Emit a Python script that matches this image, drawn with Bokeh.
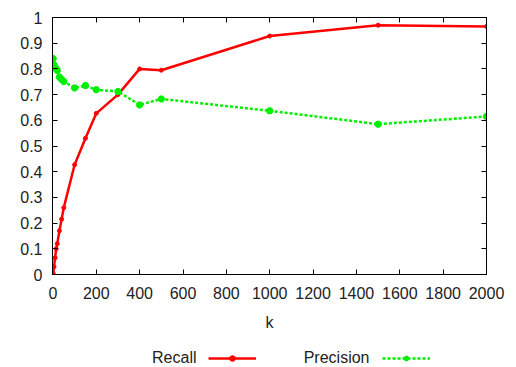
from bokeh.plotting import figure
from bokeh.layouts import column
from bokeh.models import Range1d, FixedTicker, LinearAxis, Label, Legend, LegendItem
from bokeh.embed import file_html
from bokeh.resources import INLINE

k = [1, 5, 10, 15, 20, 30, 40, 50, 100, 150, 200, 300, 400, 500, 1000, 1500, 2000]
recall = [0.005, 0.03, 0.065, 0.10, 0.12, 0.17, 0.215, 0.26, 0.427, 0.53, 0.627,
          0.70, 0.80, 0.795, 0.928, 0.97, 0.965]
precision = [0.84, 0.816, 0.806, 0.80, 0.794, 0.768, 0.759, 0.751, 0.726, 0.735,
             0.719, 0.712, 0.66, 0.683, 0.637, 0.585, 0.615]
x_ticks = [0, 200, 400, 600, 800, 1000, 1200, 1400, 1600, 1800, 2000]
y_ticks = [0, 0.1, 0.2, 0.3, 0.4, 0.5, 0.6, 0.7, 0.8, 0.9, 1.0]
y_tick_labels = ["0", "0.1", "0.2", "0.3", "0.4", "0.5", "0.6", "0.7", "0.8", "0.9", "1"]
series_names = ["Recall", "Precision"]
x_label = "k"

FONT = "Liberation Sans"
FS = "16px"
RED = "red"
GREEN = "#00ee00"

p = figure(width=516, height=340, output_backend="svg", toolbar_location=None,
           x_range=Range1d(-2, 2000), y_range=Range1d(0, 1),
           min_border_left=52, min_border_right=30, min_border_top=17,
           min_border_bottom=66, x_axis_location=None, y_axis_location=None)
p.grid.visible = False
p.outline_line_color = "black"
p.outline_line_width = 1
p.background_fill_color = "white"
p.border_fill_color = "white"

def mk_axis(ticks, labels=True, overrides=None):
    ax = LinearAxis(ticker=FixedTicker(ticks=ticks))
    ax.major_tick_in = 5
    ax.major_tick_out = 0
    ax.minor_tick_line_color = None
    ax.axis_line_color = "black"
    ax.major_tick_line_color = "black"
    ax.major_label_text_font = FONT
    ax.major_label_text_font_size = FS
    ax.major_label_text_color = "#222222"
    ax.major_label_standoff = 12
    if overrides:
        ax.major_label_overrides = overrides
    if not labels:
        ax.major_label_text_font_size = "0px"
        ax.major_label_text_color = None
    return ax

ylab = {v: s for v, s in zip(y_ticks, y_tick_labels)}
left = mk_axis(y_ticks, True, ylab)
left.major_label_standoff = 10
p.add_layout(left, "left")
right = mk_axis(y_ticks, False)
p.add_layout(right, "right")
bottom = mk_axis(x_ticks, True)
bottom.axis_label = x_label
bottom.axis_label_text_font = FONT
bottom.axis_label_text_font_size = FS
bottom.axis_label_text_font_style = "normal"
bottom.axis_label_text_color = "#222222"
bottom.axis_label_standoff = 12
p.add_layout(bottom, "below")
top = mk_axis(x_ticks, False)
p.add_layout(top, "above")

p.line(k, recall, line_color=RED, line_width=2.5)
p.scatter(k, recall, marker="circle", size=4, color=RED)
p.line(k, precision, line_color=GREEN, line_width=2.5, line_dash="3 2")
p.scatter(k, precision, marker="asterisk", size=7, line_color=GREEN, line_width=2.5)

# ---- legend strip (gnuplot style: text, then sample) ----
lg = figure(width=516, height=27, output_backend="svg", toolbar_location=None,
            x_range=Range1d(0, 516), y_range=Range1d(0, 27),
            min_border=0, x_axis_location=None, y_axis_location=None)
lg.grid.visible = False
lg.outline_line_color = None
lg.background_fill_color = "white"
lg.border_fill_color = "white"

a1 = lg.line(k, recall, line_color=RED, line_width=2.5, visible=False)
b1 = lg.scatter(k, recall, marker="circle", size=4, color=RED, visible=False)
a2 = lg.line(k, precision, line_color=GREEN, line_width=2.5, line_dash="3 2", visible=False)
b2 = lg.scatter(k, precision, marker="asterisk", size=7, line_color=GREEN,
                line_width=2.5, visible=False)

lg.add_layout(Label(x=144, y=10, x_units="screen", y_units="screen", text=series_names[0],
                    text_font=FONT, text_font_size=FS, text_color="#222222",
                    text_align="right", text_baseline="middle"))
lg.add_layout(Label(x=317, y=10, x_units="screen", y_units="screen", text=series_names[1],
                    text_font=FONT, text_font_size=FS, text_color="#222222",
                    text_align="right", text_baseline="middle"))

leg = Legend(items=[LegendItem(label=" ", renderers=[a1, b1]),
                    LegendItem(label=" ", renderers=[a2, b2])],
             location=(156, 2), orientation="horizontal", padding=0, margin=0,
             spacing=126, glyph_width=48, glyph_height=14, label_width=0,
             label_standoff=0, label_text_font_size="1px",
             border_line_color=None, background_fill_alpha=0)
lg.add_layout(leg, "center")

layout = column(p, lg, spacing=0)
open("out.html", "w").write(file_html(layout, INLINE))
